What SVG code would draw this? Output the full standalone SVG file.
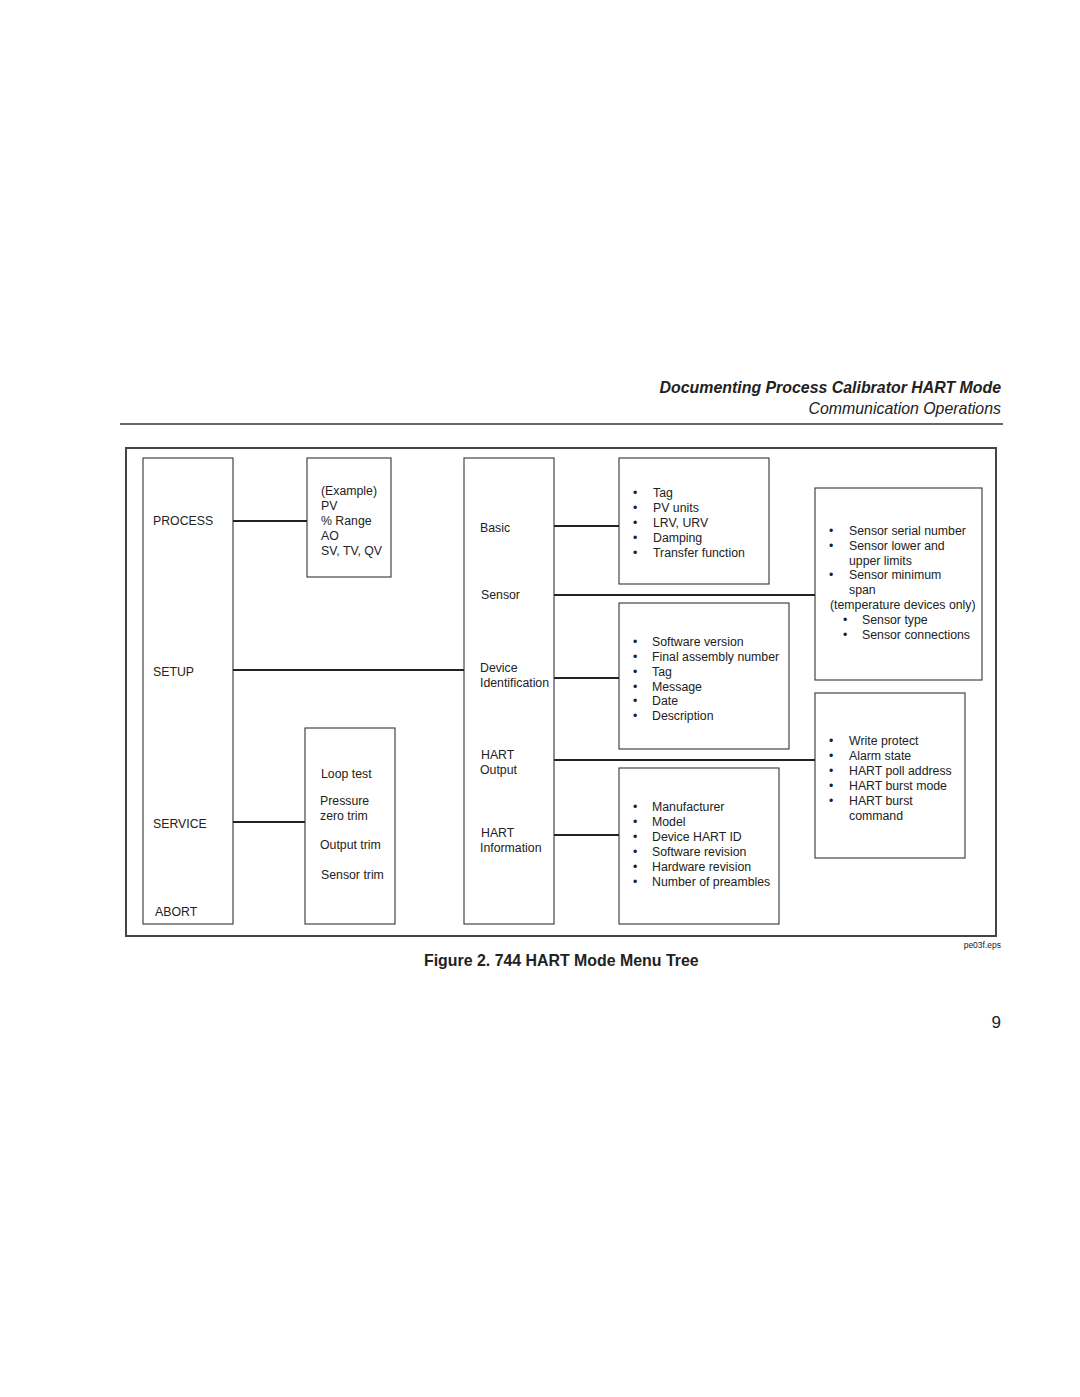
<svg xmlns="http://www.w3.org/2000/svg" width="1080" height="1397" viewBox="0 0 1080 1397">
<style>
text{font-family:"Liberation Sans",Arial,sans-serif;fill:#222;}
.t{font-size:12.3px;}
.box{fill:none;stroke:#333;stroke-width:1.1;}
.con line{stroke:#222;stroke-width:2;}
</style>
<rect width="1080" height="1397" fill="#fff"/>
<text x="1001" y="393" text-anchor="end" font-size="15.9" font-weight="bold" font-style="italic">Documenting Process Calibrator HART Mode</text>
<text x="1001" y="414" text-anchor="end" font-size="15.9" font-style="italic">Communication Operations</text>
<line x1="120" y1="424" x2="1003" y2="424" stroke="#333" stroke-width="1.5"/>
<rect x="126" y="448" width="870" height="488" fill="none" stroke="#444" stroke-width="2"/>

<g id="main">
<rect class="box" x="143" y="458" width="90" height="466"/>
<text class="t" x="153" y="525">PROCESS</text>
<text class="t" x="153" y="676">SETUP</text>
<text class="t" x="153" y="828">SERVICE</text>
<text class="t" x="155" y="916">ABORT</text>
</g>
<g id="process">
<rect class="box" x="307" y="458" width="84" height="119"/>
<text class="t" x="321" y="495">(Example)</text>
<text class="t" x="321" y="510">PV</text>
<text class="t" x="321" y="525">% Range</text>
<text class="t" x="321" y="540">AO</text>
<text class="t" x="321" y="555">SV, TV, QV</text>
</g>
<g id="service">
<rect class="box" x="305" y="728" width="90" height="196"/>
<text class="t" x="321" y="778">Loop test</text>
<text class="t" x="320" y="805">Pressure</text>
<text class="t" x="320" y="820">zero trim</text>
<text class="t" x="320" y="849">Output trim</text>
<text class="t" x="321" y="879">Sensor trim</text>
</g>
<g id="setup">
<rect class="box" x="464" y="458" width="90" height="466"/>
<text class="t" x="480" y="532">Basic</text>
<text class="t" x="481" y="599">Sensor</text>
<text class="t" x="480" y="672">Device</text>
<text class="t" x="480" y="687">Identification</text>
<text class="t" x="481" y="759">HART</text>
<text class="t" x="480" y="774">Output</text>
<text class="t" x="481" y="837">HART</text>
<text class="t" x="480" y="852">Information</text>
</g>
<g id="basic">
<rect class="box" x="619" y="458" width="150" height="126"/>
<text class="t" x="633" y="497">•</text><text class="t" x="653" y="497">Tag</text>
<text class="t" x="633" y="512">•</text><text class="t" x="653" y="512">PV units</text>
<text class="t" x="633" y="527">•</text><text class="t" x="653" y="527">LRV, URV</text>
<text class="t" x="633" y="542">•</text><text class="t" x="653" y="542">Damping</text>
<text class="t" x="633" y="557">•</text><text class="t" x="653" y="557">Transfer function</text>
</g>
<g id="device-id">
<rect class="box" x="619" y="603" width="170" height="146"/>
<text class="t" x="633" y="646">•</text><text class="t" x="652" y="646">Software version</text>
<text class="t" x="633" y="661">•</text><text class="t" x="652" y="661">Final assembly number</text>
<text class="t" x="633" y="676">•</text><text class="t" x="652" y="676">Tag</text>
<text class="t" x="633" y="691">•</text><text class="t" x="652" y="691">Message</text>
<text class="t" x="633" y="705">•</text><text class="t" x="652" y="705">Date</text>
<text class="t" x="633" y="720">•</text><text class="t" x="652" y="720">Description</text>
</g>
<g id="hart-info">
<rect class="box" x="619" y="768" width="160" height="156"/>
<text class="t" x="633" y="811">•</text><text class="t" x="652" y="811">Manufacturer</text>
<text class="t" x="633" y="826">•</text><text class="t" x="652" y="826">Model</text>
<text class="t" x="633" y="841">•</text><text class="t" x="652" y="841">Device HART ID</text>
<text class="t" x="633" y="856">•</text><text class="t" x="652" y="856">Software revision</text>
<text class="t" x="633" y="871">•</text><text class="t" x="652" y="871">Hardware revision</text>
<text class="t" x="633" y="886">•</text><text class="t" x="652" y="886">Number of preambles</text>
</g>
<g id="sensor">
<rect class="box" x="815" y="488" width="167" height="192"/>
<text class="t" x="829" y="535">•</text><text class="t" x="849" y="535">Sensor serial number</text>
<text class="t" x="829" y="550">•</text><text class="t" x="849" y="550">Sensor lower and</text>
<text class="t" x="849" y="565">upper limits</text>
<text class="t" x="829" y="579">•</text><text class="t" x="849" y="579">Sensor minimum</text>
<text class="t" x="849" y="594">span</text>
<text class="t" x="830" y="609">(temperature devices only)</text>
<text class="t" x="843" y="624">•</text><text class="t" x="862" y="624">Sensor type</text>
<text class="t" x="843" y="639">•</text><text class="t" x="862" y="639">Sensor connections</text>
</g>
<g id="hart-output">
<rect class="box" x="815" y="693" width="150" height="165"/>
<text class="t" x="829" y="745">•</text><text class="t" x="849" y="745">Write protect</text>
<text class="t" x="829" y="760">•</text><text class="t" x="849" y="760">Alarm state</text>
<text class="t" x="829" y="775">•</text><text class="t" x="849" y="775">HART poll address</text>
<text class="t" x="829" y="790">•</text><text class="t" x="849" y="790">HART burst mode</text>
<text class="t" x="829" y="805">•</text><text class="t" x="849" y="805">HART burst</text>
<text class="t" x="849" y="820">command</text>
</g>
<g id="connectors" class="con">
<line x1="233" y1="521" x2="307" y2="521"/>
<line x1="233" y1="670" x2="464" y2="670"/>
<line x1="233" y1="822" x2="305" y2="822"/>
<line x1="554" y1="526" x2="619" y2="526"/>
<line x1="554" y1="595" x2="815" y2="595"/>
<line x1="554" y1="678" x2="619" y2="678"/>
<line x1="554" y1="760" x2="815" y2="760"/>
<line x1="554" y1="835" x2="619" y2="835"/>
</g>
<text x="1001" y="948" text-anchor="end" font-size="8.5">pe03f.eps</text>
<text x="424" y="966" font-size="15.9" font-weight="bold">Figure 2. 744 HART Mode Menu Tree</text>
<text x="1001" y="1028" text-anchor="end" font-size="17">9</text>
</svg>
